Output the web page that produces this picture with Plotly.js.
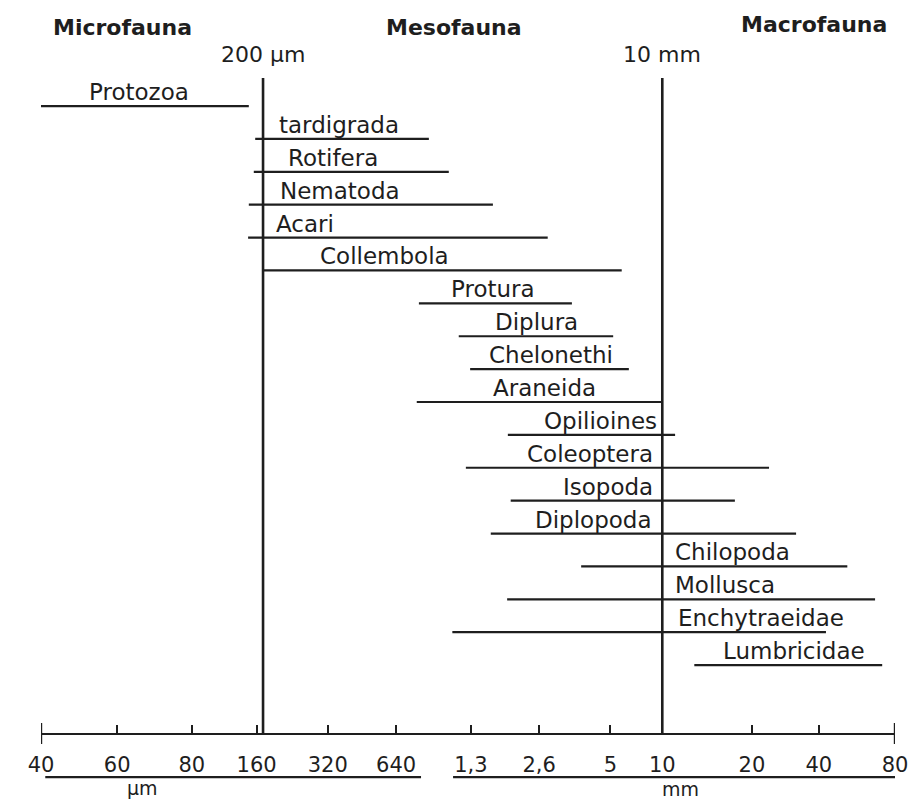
<!DOCTYPE html>
<html>
<head>
<meta charset="utf-8">
<script src="https://cdn.plot.ly/plotly-3.0.1.min.js"></script>
<style>html,body{margin:0;padding:0;background:#fff;}#chart{width:911px;height:801px;}</style>
</head>
<body>
<div id="chart"></div>
<script>
// Taxa (top to bottom) and their body-size ranges, in units of the drawn size scale
const taxa = ['Protozoa','tardigrada','Rotifera','Nematoda','Acari','Collembola','Protura','Diplura','Chelonethi','Araneida','Opilioines','Coleoptera','Isopoda','Diplopoda','Chilopoda','Mollusca','Enchytraeidae','Lumbricidae'];
const sizeMin = [-0.04, 3.01, 2.99, 2.92, 2.91, 3.12, 5.31, 5.87, 6.03, 5.28, 6.56, 5.97, 6.60, 6.32, 7.59, 6.55, 5.78, 9.18];
const sizeMax = [2.92, 5.45, 5.73, 6.35, 7.12, 8.16, 7.46, 8.04, 8.26, 8.73, 8.91, 10.23, 9.75, 10.61, 11.33, 11.72, 11.03, 11.82];
const labelAt = [1.38, 4.19, 4.10, 4.20, 3.71, 4.83, 6.35, 6.96, 7.17, 7.08, 7.86, 7.71, 7.97, 7.76, 9.71, 9.61, 10.12, 10.58];

// Size scale
const tickLabels = ['40','60','80','160','320','640','1,3','2,6','5','10','20','40','80'];
const tickPos = [0, 1.07, 2.12, 3.03, 4.03, 4.99, 6.04, 7.0, 8.0, 8.73, 9.99, 10.93, 12];
const unitNames = ['µm', 'mm'];
const unitSpan = [[0.06, 5.34], [5.79, 12.07]];
const unitLabelAt = [1.43, 8.98];

// Size-class boundaries and classes
const boundaryLabels = ['200 µm', '10 mm'];
const boundaryPos = [3.12, 8.73];
const classes = ['Microfauna', 'Mesofauna', 'Macrofauna'];
const classAt = [1.14, 5.81, 10.86];

const ink = '#1e1e1e';
const fam = 'DejaVu Sans, Verdana, sans-serif';

// build a single line trace with gaps
const xs = [], ys = [];
taxa.forEach((t, i) => { xs.push(sizeMin[i], sizeMax[i], null); ys.push(t, t, null); });

const traces = [{
  type: 'scatter', mode: 'lines', x: xs, y: ys,
  line: {color: ink, width: 2.2}, hoverinfo: 'skip', showlegend: false, connectgaps: false
}];

const annotations = [];
taxa.forEach((t, i) => annotations.push({
  x: labelAt[i], y: t, xref: 'x', yref: 'y', text: t, showarrow: false,
  xanchor: 'center', yanchor: 'middle', yshift: 14,
  font: {family: fam, size: 23, color: ink}
}));
classes.forEach((c, i) => annotations.push({
  x: classAt[i], y: i === 2 ? 0.98 : 0.976, xref: 'x', yref: 'paper', text: c, showarrow: false,
  xanchor: 'center', yanchor: 'middle', font: {family: fam, size: 22, color: ink, weight: 'bold'}
}));
boundaryLabels.forEach((b, i) => annotations.push({
  x: boundaryPos[i], y: 0.938, xref: 'x', yref: 'paper', text: b, showarrow: false,
  xanchor: 'center', yanchor: 'middle', font: {family: fam, size: 22, color: ink}
}));
unitNames.forEach((u, i) => annotations.push({
  x: unitLabelAt[i], y: 0, yshift: i === 0 ? -55 : -56, xref: 'x', yref: 'paper', text: u, showarrow: false,
  xanchor: 'center', yanchor: 'middle', borderpad: 0, font: {family: fam, size: 19, color: ink}
}));

const shapes = [];
boundaryPos.forEach(p => shapes.push({
  type: 'line', xref: 'x', yref: 'paper', x0: p, x1: p, y0: 0, y1: 0.906,
  line: {color: ink, width: 2.6}
}));
[tickPos[0], tickPos[tickPos.length - 1]].forEach(p => shapes.push({
  type: 'line', xref: 'x', yref: 'paper', x0: p, x1: p, y0: -0.0152, y1: 0.0138,
  line: {color: ink, width: 2.4}
}));
unitSpan.forEach(s => shapes.push({
  type: 'line', xref: 'x', yref: 'paper', x0: s[0], x1: s[1], y0: -0.0609, y1: -0.0609,
  line: {color: ink, width: 2.2}
}));

const layout = {
  width: 911, height: 801,
  margin: {l: 41, r: 16, t: 10, b: 68},
  paper_bgcolor: '#ffffff', plot_bgcolor: '#ffffff',
  showlegend: false,
  xaxis: {
    range: [0, 12], showgrid: false, zeroline: false,
    showline: true, linecolor: ink, linewidth: 2.2,
    tickmode: 'array', tickvals: tickPos, ticktext: tickLabels,
    ticks: 'inside', ticklen: 8, tickwidth: 2.2, tickcolor: ink,
    ticklabelstandoff: 12,
    tickfont: {family: fam, size: 21, color: ink}, fixedrange: true
  },
  yaxis: {
    type: 'category', categoryorder: 'array', categoryarray: taxa,
    range: [19.065, -2.92], visible: false, showgrid: false, zeroline: false, fixedrange: true
  },
  annotations: annotations,
  shapes: shapes
};

Plotly.newPlot('chart', traces, layout, {displayModeBar: false, staticPlot: true});
</script>
</body>
</html>
